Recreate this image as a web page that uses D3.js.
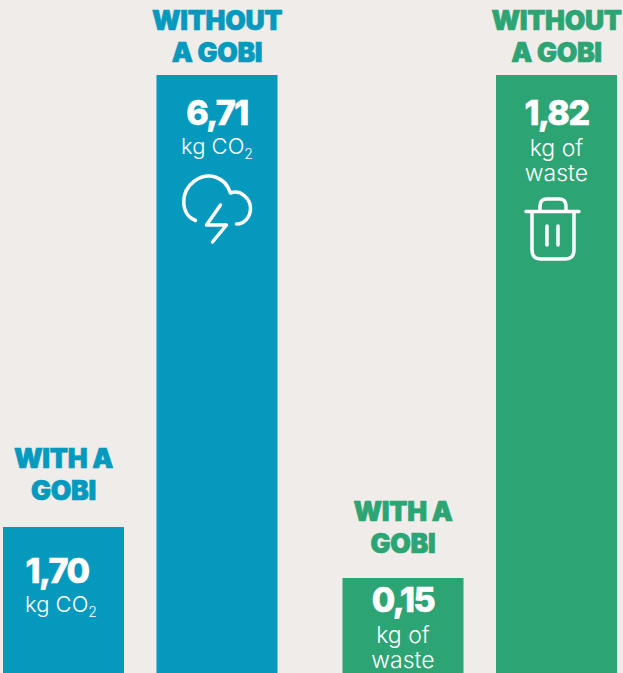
<!DOCTYPE html>
<html>
<head>
<meta charset="utf-8">
<script src="https://cdn.jsdelivr.net/npm/d3@7"></script>
<style>
  html, body { margin: 0; padding: 0; background: #efecea; overflow: hidden; }
  text { font-family: Inter, "Noto Sans", sans-serif; }
</style>
</head>
<body>
<div id="chart-area"></div>
<script>
var panels = ["co2", "waste"];
var scenarios = ["with", "without"];
var co2Values = [1.70, 6.71];
var wasteValues = [0.15, 1.82];
var titleLines = { "with": ["WITH A", "GOBI"], "without": ["WITHOUT", "A GOBI"] };
var unitLines = { co2: ["kg CO"], waste: ["kg of", "waste"] };

var width = 623;
var height = 673;
var colors = { co2: "#0599be", waste: "#2ca474" };

var svg = d3.select("#chart-area")
  .append("svg")
  .attr("width", width)
  .attr("height", height)
  .style("display", "block");

// X scales (nested bands)
var x0 = d3.scaleBand()
  .domain(panels)
  .range([3, 617])
  .paddingInner(0.1915);

var x1 = d3.scaleBand()
  .domain(scenarios)
  .range([0, x0.bandwidth()])
  .paddingInner(0.2117);

// Y scales, the two panels do not share a unit
var yScales = {
  co2: d3.scaleLinear().domain([1.70, 6.71]).range([527, 75]),
  waste: d3.scaleLinear().domain([0.15, 1.82]).range([578, 75])
};

var bars = [];
panels.forEach(p => {
  var vals = p === "co2" ? co2Values : wasteValues;
  scenarios.forEach((s, i) => bars.push({ panel: p, scenario: s, value: vals[i] }));
});

var fmt = v => d3.format(".2f")(v).replace(".", ",");

var groups = svg.selectAll("g.bar")
  .data(bars)
  .enter()
  .append("g")
  .attr("class", "bar")
  .attr("transform", d => "translate(" + (x0(d.panel) + x1(d.scenario)) + "," + yScales[d.panel](d.value) + ")");

// Bars run off the bottom of the page
groups.append("rect")
  .attr("width", x1.bandwidth())
  .attr("height", d => height - yScales[d.panel](d.value))
  .attr("fill", d => colors[d.panel]);

// Titles above the bars
var titleOffset = { co2with: -27, co2without: -13, wastewith: -25, wastewithout: -13 };
groups.each(function(d) {
  var g = d3.select(this);
  var cx = x1.bandwidth() / 2;
  titleLines[d.scenario].forEach((line, i, all) => {
    g.append("text")
      .attr("x", cx)
      .attr("y", titleOffset[d.panel + d.scenario] - (all.length - 1 - i) * 32)
      .attr("text-anchor", "middle")
      .attr("font-size", 26.5)
      .attr("font-weight", 900)
      .attr("letter-spacing", "-0.3px")
      .attr("fill", colors[d.panel])
      .attr("stroke", colors[d.panel])
      .attr("stroke-width", 0.7)
      .text(line);
  });
});

// Value and unit text inside the bars
var valueOffset = { co2with: 56, co2without: 50, wastewith: 34, wastewithout: 50 };
groups.each(function(d) {
  var g = d3.select(this);
  var key = d.panel + d.scenario;
  var cx = key === "co2with" ? 54 : x1.bandwidth() / 2;
  var top = valueOffset[key];

  g.append("text")
    .attr("x", cx)
    .attr("y", top)
    .attr("text-anchor", "middle")
    .attr("font-size", 34)
    .attr("font-weight", 800)
    .attr("letter-spacing", "-1.5px")
    .attr("fill", "#fff")
    .attr("stroke", "#fff")
    .attr("stroke-width", 0.6)
    .text(fmt(d.value));

  unitLines[d.panel].forEach((line, i) => {
    var t = g.append("text")
      .attr("x", cx)
      .attr("y", top + (d.panel === "co2" ? 29 : 31) + i * 25)
      .attr("text-anchor", "middle")
      .attr("font-size", d.panel === "co2" ? 22 : 23)
      .attr("font-weight", 300)
      .attr("fill", "#fff")
      .text(line);
    if (d.panel === "co2") {
      t.attr("x", key === "co2with" ? cx + 4 : cx);
      t.append("tspan").attr("dy", 5).attr("font-size", 14).text("2");
    }
  });
});

// Icons on the two tall bars
var iconStyle = sel => sel
  .attr("fill", "none")
  .attr("stroke", "#fff")
  .attr("stroke-width", 3.5)
  .attr("stroke-linecap", "round")
  .attr("stroke-linejoin", "round");

var cloud = groups.filter(d => d.panel === "co2" && d.scenario === "without")
  .append("g").attr("transform", "translate(0,100)");
cloud.append("path")
  .attr("d", "M39,45.5 C24,40 23,17 38,6 C52,-4 69,2 74,18 C85,14 94,25 94,33 C94,42 88,49 80,49")
  .call(iconStyle);
cloud.append("path")
  .attr("d", "M64,30 L50,50 L70,50 L56,67")
  .call(iconStyle);

var bin = groups.filter(d => d.panel === "waste" && d.scenario === "without")
  .append("g").attr("transform", "translate(0,124)");
bin.append("path")
  .attr("d", "M30,12.5 H83 M36,12.5 V51 Q36,60 45,60 H69 Q78,60 78,51 V12.5 M44,12 V7 Q44,0 51,0 H63 Q70,0 70,7 V12")
  .call(iconStyle);
bin.append("path")
  .attr("d", "M51,27 V46 M62,27 V46")
  .call(iconStyle);
</script>
</body>
</html>
